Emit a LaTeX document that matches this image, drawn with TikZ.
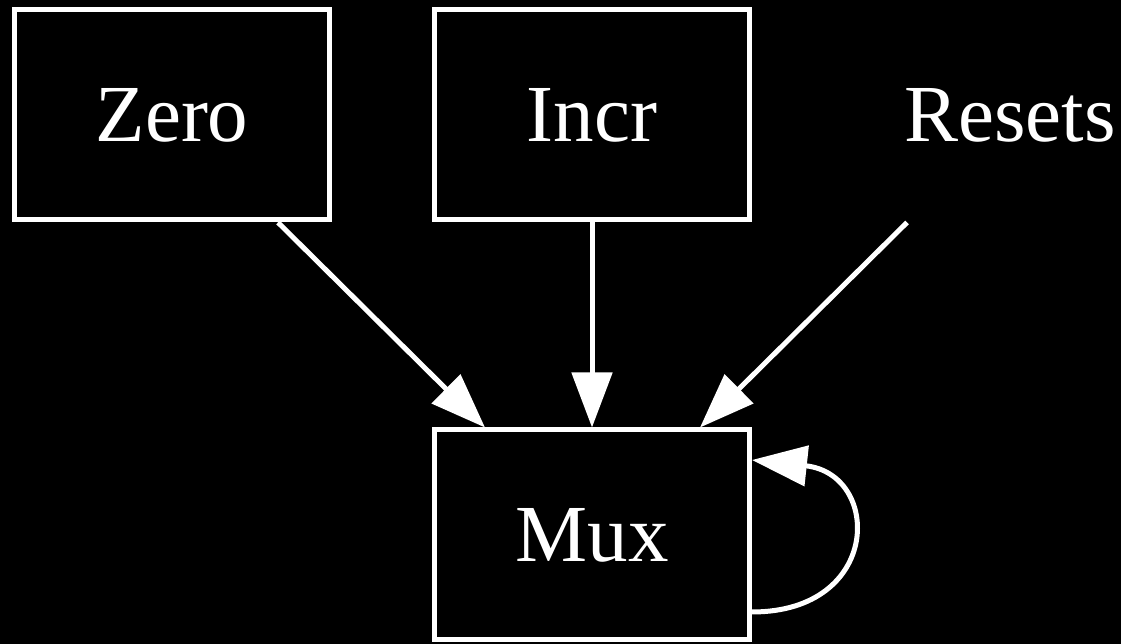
\documentclass[tikz,border=0pt]{standalone}
\usepackage{fontspec}
\setmainfont{Liberation Serif}
\usetikzlibrary{arrows.meta, positioning}

\begin{document}
\begin{tikzpicture}[
    font=\fontsize{81}{96}\selectfont,
    line width=5pt,
    white,
    box/.style={draw, minimum width=315pt, minimum height=210pt, align=center, fill=black},
    plain/.style={draw=none, minimum width=315pt, minimum height=210pt, align=center},
    arrow/.style={-{Triangle[length=55pt, width=40pt]}, line width=5pt}
]

    % Background
    \fill[black] (0,0) rectangle (1121pt,644pt);
    \useasboundingbox (0,0) rectangle (1121pt,644pt);

    % Nodes
    \node[box] (zero) at (172pt,529pt) {Zero};
    \node[box, right=100pt of zero] (incr) {Incr};
    \node[plain, right=98pt of incr] (resets) {Resets};
    \node[box, below=205pt of incr] (mux) {Mux};

    % Inputs to Mux
    \draw[arrow] ([xshift=106pt]zero.south) -- ([xshift=-107pt]mux.north);
    \draw[arrow] (incr.south) -- (mux.north);
    \draw[arrow] ([xshift=-103pt]resets.south) -- ([xshift=108pt]mux.north);

    % Feedback loop
    \draw[arrow] ([yshift=-77pt]mux.east) .. controls +(130pt,0pt) and +(130pt,-14pt) .. ([yshift=75pt]mux.east);

\end{tikzpicture}
\end{document}
